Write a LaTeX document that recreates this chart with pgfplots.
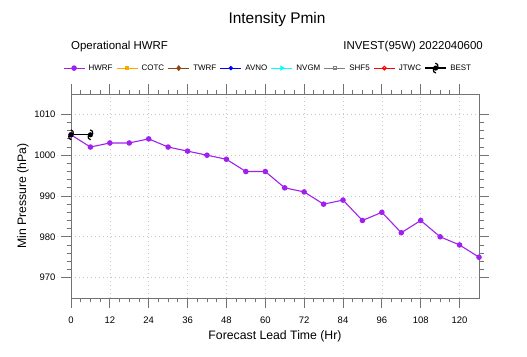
\documentclass[border=0pt]{standalone}
\usepackage{fontspec}
\setmainfont{Liberation Sans}
\usepackage{pgfplots}
\pgfplotsset{compat=1.18}
\definecolor{hwrf}{HTML}{A020F0}
\definecolor{cotc}{HTML}{FFA500}
\definecolor{twrf}{HTML}{8B4513}
\definecolor{avno}{HTML}{0000FF}
\definecolor{nvgm}{HTML}{00FFFF}
\definecolor{shf}{HTML}{808080}
\definecolor{jtwc}{HTML}{FF0000}
\pgfdeclareplotmark{hurr}{%
  \pgfpathcircle{\pgfpointorigin}{\pgfplotmarksize}\pgfusepath{fill}%
  \pgfsetlinewidth{1.2pt}%
  \pgfpathmoveto{\pgfpoint{0.9\pgfplotmarksize}{0.3\pgfplotmarksize}}%
  \pgfpathcurveto{\pgfpoint{1.1\pgfplotmarksize}{1.2\pgfplotmarksize}}{\pgfpoint{0.6\pgfplotmarksize}{1.8\pgfplotmarksize}}{\pgfpoint{-0.1\pgfplotmarksize}{1.9\pgfplotmarksize}}%
  \pgfpathmoveto{\pgfpoint{-0.9\pgfplotmarksize}{-0.3\pgfplotmarksize}}%
  \pgfpathcurveto{\pgfpoint{-1.1\pgfplotmarksize}{-1.2\pgfplotmarksize}}{\pgfpoint{-0.6\pgfplotmarksize}{-1.8\pgfplotmarksize}}{\pgfpoint{0.1\pgfplotmarksize}{-1.9\pgfplotmarksize}}%
  \pgfusepath{stroke}%
}
\begin{document}
\begin{tikzpicture}
\useasboundingbox (0,0) rectangle (527bp,357bp);
\node[font=\fontsize{15.5}{18}\selectfont] at (277bp,337bp) {Intensity Pmin};
\node[font=\fontsize{11.5}{13}\selectfont,anchor=west,inner sep=0pt] at (71bp,310bp) {Operational HWRF};
\node[font=\fontsize{11.5}{13}\selectfont,anchor=east,inner sep=0pt] at (483bp,310bp) {INVEST(95W) 2022040600};
\begin{axis}[
  at={(71bp,59bp)}, anchor=south west,
  width=408bp, height=204bp, scale only axis,
  xmin=0, xmax=126, ymin=965, ymax=1015,
  xtick={0,12,...,120}, ytick={970,980,...,1010},
  minor x tick num=3, minor y tick num=4,
  tick align=outside,
  major tick length=10bp, minor tick length=4.5bp,
  every tick/.style={color=black!55, line width=0.8pt},
  axis line style={color=black!55, line width=0.8pt},
  grid=major,
  major grid style={dash pattern=on 1bp off 3bp, color=black!22, line width=0.7pt},
  /pgf/number format/assume math mode=true,
  /pgf/number format/set thousands separator={},
  ticklabel style={font=\fontsize{9.5}{11}\selectfont},
  xticklabel style={yshift=-5bp},
  yticklabel style={xshift=-2bp},
  xlabel={Forecast Lead Time (Hr)}, ylabel={Min Pressure (hPa)},
  label style={font=\fontsize{12.3}{14}\selectfont},
  xlabel style={yshift=-1bp},
  ylabel style={yshift=-1bp},
  clip=false,
  legend columns=8,
  legend style={at={(0.483,1.127)}, anchor=center, draw=none, fill=none,
    font=\fontsize{8}{9}\selectfont, column sep=1.5bp, inner sep=0pt},
  legend image code/.code={\draw[mark repeat=2,mark phase=2,#1] plot coordinates {(0bp,0bp)(10.5bp,0bp)(21bp,0bp)};},
]
\addplot[hwrf, line width=1.1pt, mark=*, mark size=2.2bp] coordinates {
(0,1005)(6,1002)(12,1003)(18,1003)(24,1004)(30,1002)(36,1001)(42,1000)(48,999)(54,996)(60,996)(66,992)(72,991)(78,988)(84,989)(90,984)(96,986)(102,981)(108,984)(114,980)(120,978)(126,975)};
\addlegendentry{HWRF}
\addlegendimage{cotc, line width=1.1pt, mark=square*, mark size=1.8bp}
\addlegendentry{COTC}
\addlegendimage{twrf, line width=1.1pt, mark=diamond*, mark size=2.2bp}
\addlegendentry{TWRF}
\addlegendimage{avno, line width=1.1pt, mark=*, mark size=1.6bp}
\addlegendentry{AVNO}
\addlegendimage{nvgm, line width=1.1pt, mark=triangle*, mark size=2bp, mark options={rotate=-90}}
\addlegendentry{NVGM}
\addlegendimage{shf, line width=1.1pt, mark=square, mark size=1.8bp}
\addlegendentry{SHF5}
\addlegendimage{jtwc, line width=1.1pt, mark=o, mark size=1.8bp}
\addlegendentry{JTWC}
\addplot[black, line width=1.3pt, mark=hurr, mark size=2.6bp] coordinates {(0,1005)(6,1005)};
\addlegendentry{BEST}
\end{axis}
\end{tikzpicture}
\end{document}
